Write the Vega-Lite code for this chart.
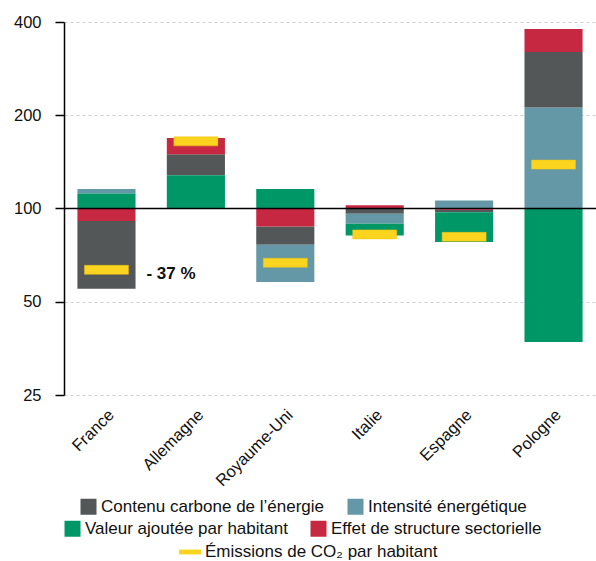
{
  "$schema": "https://vega.github.io/schema/vega-lite/v6.json",
  "width": 532,
  "height": 373,
  "autosize": {"type": "none"},
  "padding": {"left": 64, "top": 22, "right": 0, "bottom": 166},
  "background": "white",
  "datasets": {
    "segments": [
      {"pays": "France", "composante": "Valeur ajoutée par habitant", "bas": 100, "haut": 111.8},
      {"pays": "France", "composante": "Intensité énergétique", "bas": 111.8, "haut": 115.5},
      {"pays": "France", "composante": "Effet de structure sectorielle", "bas": 91.1, "haut": 100},
      {"pays": "France", "composante": "Contenu carbone de l’énergie", "bas": 55.1, "haut": 91.1},
      {"pays": "Allemagne", "composante": "Valeur ajoutée par habitant", "bas": 100, "haut": 128.1},
      {"pays": "Allemagne", "composante": "Contenu carbone de l’énergie", "bas": 128.1, "haut": 149.7},
      {"pays": "Allemagne", "composante": "Effet de structure sectorielle", "bas": 149.7, "haut": 169},
      {"pays": "Royaume-Uni", "composante": "Valeur ajoutée par habitant", "bas": 100, "haut": 115.5},
      {"pays": "Royaume-Uni", "composante": "Effet de structure sectorielle", "bas": 87.5, "haut": 100},
      {"pays": "Royaume-Uni", "composante": "Contenu carbone de l’énergie", "bas": 76.4, "haut": 87.5},
      {"pays": "Royaume-Uni", "composante": "Intensité énergétique", "bas": 57.9, "haut": 76.4},
      {"pays": "Italie", "composante": "Effet de structure sectorielle", "bas": 100, "haut": 102.5},
      {"pays": "Italie", "composante": "Contenu carbone de l’énergie", "bas": 96.1, "haut": 100},
      {"pays": "Italie", "composante": "Intensité énergétique", "bas": 89.3, "haut": 96.1},
      {"pays": "Italie", "composante": "Valeur ajoutée par habitant", "bas": 81.8, "haut": 89.3},
      {"pays": "Espagne", "composante": "Intensité énergétique", "bas": 100, "haut": 106.2},
      {"pays": "Espagne", "composante": "Effet de structure sectorielle", "bas": 99, "haut": 100},
      {"pays": "Espagne", "composante": "Contenu carbone de l’énergie", "bas": 97.3, "haut": 99},
      {"pays": "Espagne", "composante": "Valeur ajoutée par habitant", "bas": 77.9, "haut": 97.3},
      {"pays": "Pologne", "composante": "Intensité énergétique", "bas": 100, "haut": 212},
      {"pays": "Pologne", "composante": "Contenu carbone de l’énergie", "bas": 212, "haut": 320},
      {"pays": "Pologne", "composante": "Effet de structure sectorielle", "bas": 320, "haut": 380},
      {"pays": "Pologne", "composante": "Valeur ajoutée par habitant", "bas": 37.1, "haut": 100}
    ],
    "emissions": [
      {"pays": "France", "serie": "Émissions de CO₂ par habitant", "valeur": 63.4},
      {"pays": "Allemagne", "serie": "Émissions de CO₂ par habitant", "valeur": 164.7},
      {"pays": "Royaume-Uni", "serie": "Émissions de CO₂ par habitant", "valeur": 66.8},
      {"pays": "Italie", "serie": "Émissions de CO₂ par habitant", "valeur": 82.5},
      {"pays": "Espagne", "serie": "Émissions de CO₂ par habitant", "valeur": 81},
      {"pays": "Pologne", "serie": "Émissions de CO₂ par habitant", "valeur": 138.6}
    ],
    "etiquettes": [
      {"pays": "France", "valeur": 61.5, "texte": "- 37 %"}
    ],
    "reference": [
      {"indice": 100}
    ]
  },
  "layer": [
    {
      "data": {"name": "segments"},
      "transform": [{"filter": {"field": "composante", "oneOf": ["Contenu carbone de l’énergie", "Intensité énergétique"]}}],
      "mark": {"type": "bar"},
      "encoding": {
        "x": {"field": "pays", "type": "nominal", "title": null,
          "sort": ["France", "Allemagne", "Royaume-Uni", "Italie", "Espagne", "Pologne"],
          "scale": {"paddingInner": 0.35, "paddingOuter": 0.15},
          "axis": {"labelAngle": -45, "labelAlign": "right", "labelBaseline": "middle", "labelPadding": 17, "labelOffset": 5, "domain": false, "ticks": false, "grid": false, "labelFontSize": 16.5, "labelColor": "#111"}},
        "y": {"field": "bas", "type": "quantitative", "title": null,
          "scale": {"type": "log", "domain": [25, 400], "nice": false},
          "axis": {"values": [25, 50, 100, 200, 400], "format": "d", "grid": true, "gridDash": [3, 3], "gridColor": "#cfcfcf", "domainColor": "#000", "domainWidth": 1.5, "tickColor": "#000", "tickWidth": 1.5, "tickSize": 9, "labelFontSize": 16.5, "labelPadding": 14, "labelColor": "#111"}},
        "y2": {"field": "haut"},
        "color": {"field": "composante", "type": "nominal",
          "scale": {"domain": ["Contenu carbone de l’énergie", "Intensité énergétique"], "range": ["#535757", "#6598a6"]},
          "legend": {"orient": "none", "legendX": 16, "legendY": 476, "direction": "horizontal"}}
      }
    },
    {
      "data": {"name": "segments"},
      "transform": [{"filter": {"field": "composante", "oneOf": ["Valeur ajoutée par habitant", "Effet de structure sectorielle"]}}],
      "mark": {"type": "bar"},
      "encoding": {
        "x": {"field": "pays", "type": "nominal", "title": null, "sort": ["France", "Allemagne", "Royaume-Uni", "Italie", "Espagne", "Pologne"]},
        "y": {"field": "bas", "type": "quantitative", "title": null},
        "y2": {"field": "haut"},
        "color": {"field": "composante", "type": "nominal",
          "scale": {"domain": ["Valeur ajoutée par habitant", "Effet de structure sectorielle"], "range": ["#009767", "#c62842"]},
          "legend": {"orient": "none", "legendX": 0, "legendY": 498, "direction": "horizontal"}}
      }
    },
    {
      "data": {"name": "reference"},
      "mark": {"type": "rule", "color": "#000", "strokeWidth": 1.5},
      "encoding": {"y": {"field": "indice", "type": "quantitative", "title": null}}
    },
    {
      "data": {"name": "emissions"},
      "mark": {"type": "tick", "size": 44, "thickness": 9, "stroke": "#efc215", "strokeWidth": 0.5, "opacity": 1},
      "encoding": {
        "x": {"field": "pays", "type": "nominal", "title": null, "sort": ["France", "Allemagne", "Royaume-Uni", "Italie", "Espagne", "Pologne"]},
        "y": {"field": "valeur", "type": "quantitative", "title": null},
        "color": {"field": "serie", "type": "nominal",
          "scale": {"domain": ["Émissions de CO₂ par habitant"], "range": ["#fad41e"]},
          "legend": {"orient": "none", "legendX": 115, "legendY": 519, "direction": "horizontal", "symbolType": "M-1,-0.22H1V0.22H-1Z", "symbolSize": 484, "symbolFillColor": "#fad41e", "symbolStrokeWidth": 0}}
      }
    },
    {
      "data": {"name": "etiquettes"},
      "mark": {"type": "text", "align": "left", "baseline": "middle", "dx": 40, "fontSize": 17, "fontWeight": "bold", "color": "#111"},
      "encoding": {
        "x": {"field": "pays", "type": "nominal", "title": null, "sort": ["France", "Allemagne", "Royaume-Uni", "Italie", "Espagne", "Pologne"]},
        "y": {"field": "valeur", "type": "quantitative", "title": null},
        "text": {"field": "texte"}
      }
    }
  ],
  "resolve": {"scale": {"color": "independent"}, "legend": {"color": "independent"}},
  "config": {
    "font": "Liberation Sans",
    "view": {"stroke": null},
    "legend": {"title": null, "labelFontSize": 17, "labelColor": "#111", "symbolSize": 256, "symbolType": "square", "symbolStrokeWidth": 0, "symbolOpacity": 1, "columnPadding": 22, "labelOffset": 4, "padding": 0, "labelLimit": 400}
  }
}
